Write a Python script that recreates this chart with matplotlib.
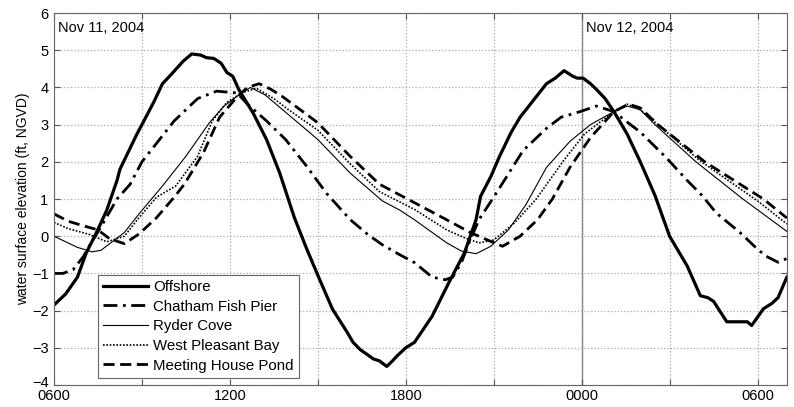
import matplotlib
matplotlib.use('Agg')
import matplotlib.pyplot as plt
import matplotlib.transforms as mtransforms
import numpy as np

plt.rcParams['font.family'] = ['Liberation Sans', 'DejaVu Sans']

# hours since Nov 11, 2004 00:00
t_off = [6.0, 6.4, 6.8, 7.1, 7.45, 7.8, 8.15, 8.25, 8.8, 9.4, 9.7, 10.0, 10.4, 10.7,
         11.0, 11.2, 11.45, 11.7, 11.9, 12.1, 12.3, 12.8, 13.25, 13.7, 14.2, 14.6,
         15.0, 15.5, 16.0, 16.2, 16.45, 16.9, 17.1, 17.35, 17.55, 17.7, 18.0, 18.3,
         18.9, 19.5, 20.0, 20.4, 20.55, 20.9, 21.2, 21.6, 21.9, 22.25, 22.8, 23.1,
         23.4, 23.7, 23.85, 24.05, 24.3, 24.5, 24.8, 25.1, 25.55, 26.0, 26.5, 27.0,
         27.6, 28.05, 28.3, 28.5, 28.95, 29.3, 29.65, 29.8, 30.2, 30.5, 30.7, 31.0]
offshore = [-1.85, -1.55, -1.1, -0.45, 0.1, 0.7, 1.5, 1.8, 2.7, 3.6, 4.1, 4.35, 4.7, 4.9,
            4.87, 4.8, 4.78, 4.65, 4.4, 4.3, 3.95, 3.3, 2.6, 1.7, 0.5, -0.3,
            -1.05, -1.96, -2.58, -2.85, -3.05, -3.3, -3.35, -3.5, -3.35, -3.22, -3.0, -2.85,
            -2.15, -1.2, -0.45, 0.45, 1.07, 1.6, 2.15, 2.8, 3.2, 3.55, 4.1, 4.25,
            4.45, 4.3, 4.25, 4.25, 4.1, 3.95, 3.7, 3.35, 2.75, 2.0, 1.1, 0.0,
            -0.8, -1.6, -1.65, -1.75, -2.3, -2.3, -2.3, -2.4, -1.95, -1.8, -1.65, -1.1]

t_cfp = [6.0, 6.3, 6.65, 7.0, 7.2, 7.6, 8.15, 8.6, 9.0, 9.4, 10.1, 10.9, 11.55, 12.25,
         12.6, 13.25, 13.9, 14.6, 15.3, 16.1, 16.7, 17.2, 17.8, 18.3, 18.9, 19.35,
         19.6, 19.9, 20.2, 20.5, 21.0, 22.0, 22.8, 23.3, 23.95, 24.5, 25.1, 25.5,
         26.0, 26.9, 27.6, 28.1, 28.6, 29.4, 30.0, 30.3, 30.7, 31.0]
chatham = [-1.0, -1.0, -0.9, -0.55, -0.27, 0.25, 1.0, 1.4, 2.0, 2.4, 3.1, 3.7, 3.9, 3.85,
           3.55, 3.1, 2.6, 1.9, 1.15, 0.45, 0.05, -0.23, -0.5, -0.71, -1.1, -1.17,
           -1.1, -0.7, -0.1, 0.45, 1.05, 2.3, 2.9, 3.2, 3.35, 3.5, 3.35, 3.1,
           2.8, 2.1, 1.5, 1.1, 0.62, 0.1, -0.35, -0.54, -0.7, -0.6]

t_ryd = [6.0, 6.4, 6.8, 7.3, 7.6, 7.9, 8.4, 8.9, 9.7, 10.5, 11.3, 11.8, 12.4, 12.7,
         13.2, 13.8, 14.4, 15.0, 16.1, 17.2, 17.8, 18.3, 19.4, 19.9, 20.4, 20.9,
         21.5, 22.1, 22.8, 23.6, 24.3, 25.1, 25.55, 26.0, 26.5, 27.9, 29.5, 31.0]
ryder = [0.0, -0.15, -0.3, -0.42, -0.38, -0.2, 0.1, 0.6, 1.35, 2.15, 3.05, 3.5, 3.85, 4.0,
         3.8, 3.4, 3.0, 2.6, 1.7, 0.95, 0.7, 0.44, -0.18, -0.4, -0.47, -0.27,
         0.17, 0.85, 1.85, 2.55, 3.0, 3.35, 3.5, 3.4, 3.0, 2.0, 1.0, 0.13]

t_wpb = [6.0, 6.5, 7.2, 7.8, 8.4, 8.9, 9.5, 10.15, 10.9, 11.4, 11.9, 12.4, 12.9,
         13.5, 14.0, 15.0, 16.1, 17.1, 18.3, 19.4, 20.0, 20.5, 21.0, 21.7, 22.45,
         23.4, 24.1, 25.1, 25.55, 26.0, 26.6, 28.0, 30.0, 31.0]
west = [0.37, 0.2, 0.05, -0.15, 0.0, 0.5, 1.05, 1.35, 2.15, 3.1, 3.6, 3.85, 3.98,
        3.7, 3.4, 2.85, 1.95, 1.2, 0.72, 0.17, -0.04, -0.18, -0.1, 0.35, 1.0,
        2.05, 2.75, 3.35, 3.55, 3.4, 3.0, 2.05, 0.95, 0.33]

t_mhp = [6.0, 6.5, 7.0, 7.5, 7.9, 8.4, 8.9, 9.5, 10.1, 10.45, 11.1, 11.65, 12.25,
         12.6, 13.0, 13.4, 13.8, 15.0, 16.1, 17.1, 18.3, 19.4, 20.2, 20.9, 21.3,
         21.9, 22.5, 23.0, 23.6, 24.3, 25.1, 25.6, 26.0, 26.6, 28.2, 30.2, 31.0]
meeting = [0.6, 0.4, 0.28, 0.17, -0.07, -0.2, 0.06, 0.5, 1.05, 1.4, 2.25, 3.2, 3.75,
           4.0, 4.1, 3.95, 3.75, 3.05, 2.15, 1.4, 0.9, 0.44, 0.1, -0.14, -0.27,
           0.0, 0.45, 1.0, 1.85, 2.65, 3.35, 3.55, 3.45, 3.0, 2.0, 1.0, 0.49]

xticks = [6, 9, 12, 15, 18, 21, 24, 27, 30]
xticklabels = ['0600', '', '1200', '', '1800', '', '0000', '', '0600']
yticks = [-4, -3, -2, -1, 0, 1, 2, 3, 4, 5, 6]

fig = plt.figure(figsize=(7.94, 4.07), dpi=100)
ax = fig.add_axes([0.068, 0.054, 0.923, 0.914])

ax.plot(t_off, offshore, color='black', lw=2.3, label='Offshore')
ax.plot(t_cfp, chatham, color='black', lw=2.0, linestyle=(0, (5, 2, 1, 2)),
        label='Chatham Fish Pier')
ax.plot(t_ryd, ryder, color='black', lw=0.8, label='Ryder Cove')
ax.plot(t_wpb, west, color='black', lw=1.2, linestyle=(0, (1, 1)),
        label='West Pleasant Bay')
ax.plot(t_mhp, meeting, color='black', lw=2.0, linestyle=(0, (4, 2)),
        label='Meeting House Pond')

ax.axvline(24, color='#777777', lw=1.0, zorder=1)

ax.set_xlim(6, 31)
ax.set_ylim(-4, 6)
ax.set_xticks(xticks)
ax.set_xticklabels(xticklabels)
ax.set_yticks(yticks)
ax.grid(True, color='#aaaaaa', linestyle=':', lw=0.9)
ax.tick_params(direction='in', top=True, right=True, labelsize=10.5,
               length=4, color='#555555')
ax.tick_params(axis='x', pad=3)
ax.tick_params(axis='y', pad=4)
for s in ax.spines.values():
    s.set_color('#666666')

# lift the lowest y label a little so it clears the first x label
lbl = ax.get_yticklabels()[0]
lbl.set_transform(lbl.get_transform() +
                  mtransforms.ScaledTranslation(0, 4 / 100, fig.dpi_scale_trans))

ax.set_ylabel('water surface elevation (ft, NGVD)', fontsize=10, labelpad=1)

ax.text(6.15, 5.6, 'Nov 11, 2004', fontsize=10.5, va='center')
ax.text(24.15, 5.6, 'Nov 12, 2004', fontsize=10.5, va='center')

leg = ax.legend(loc='lower left', bbox_to_anchor=(0.06, 0.019), fontsize=10.8,
                handlelength=3.0, handletextpad=0.35, labelspacing=0.38,
                borderpad=0.35, fancybox=False, framealpha=1,
                edgecolor='#666666', borderaxespad=0)
leg.get_frame().set_linewidth(0.8)

fig.savefig('out.png', dpi=100)
